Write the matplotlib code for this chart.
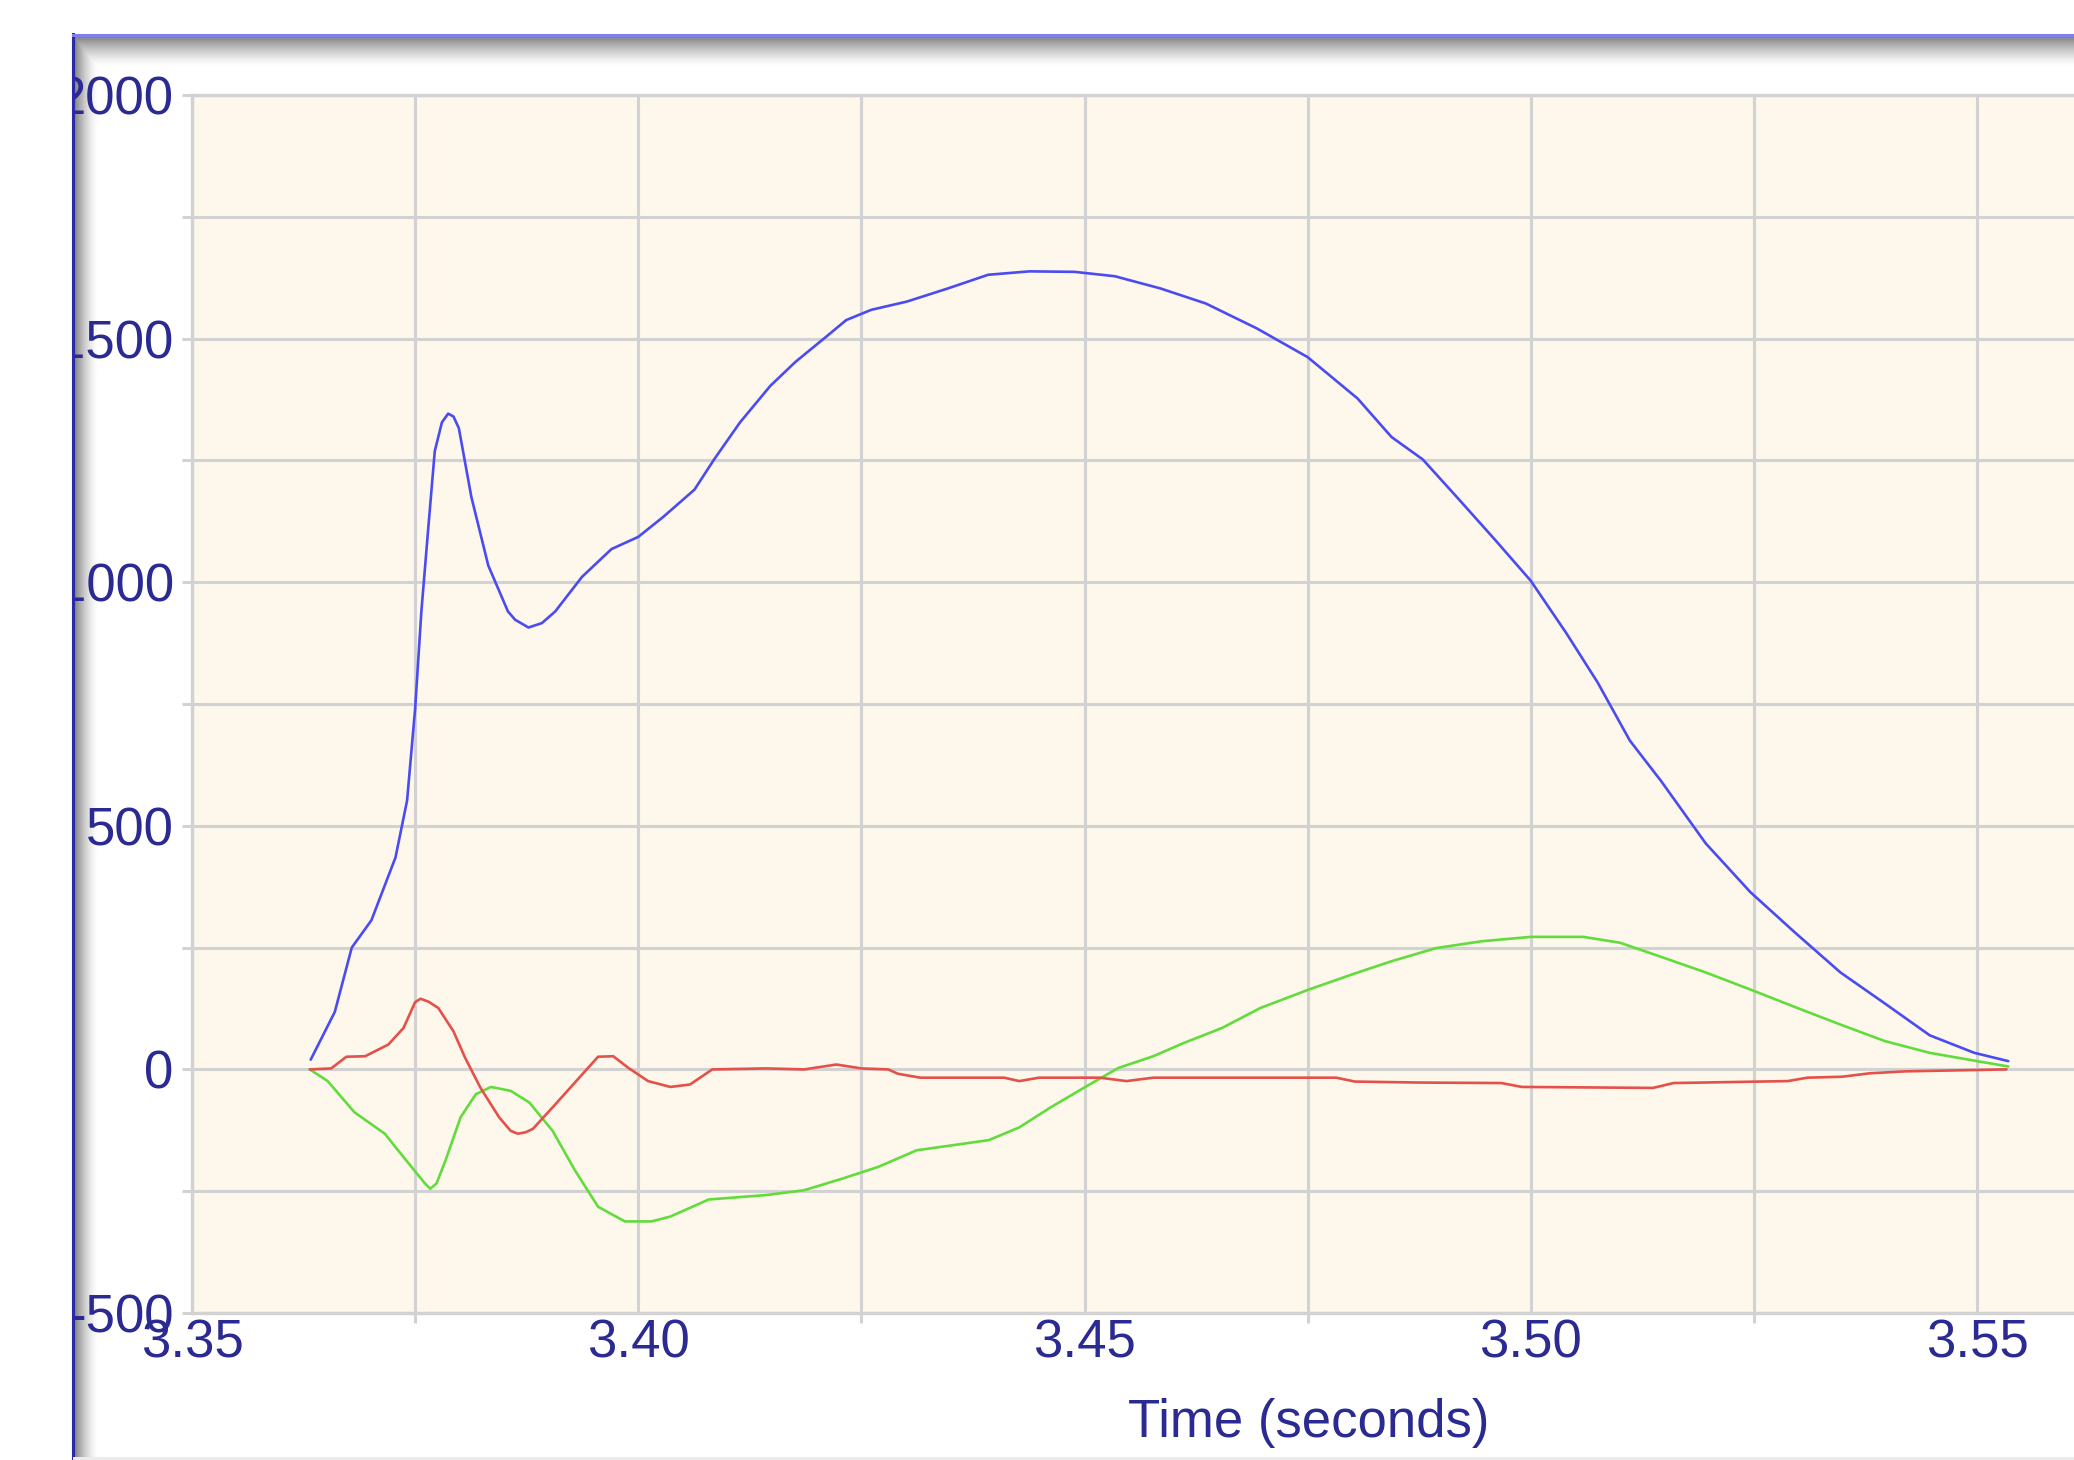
import numpy as np
import matplotlib
matplotlib.use("Agg")
import matplotlib.pyplot as plt
from matplotlib.lines import Line2D
from matplotlib.patches import Rectangle

# ---------------- data ----------------
blue_t = [3.3633, 3.3660, 3.3679, 3.3701, 3.3728, 3.3741, 3.3750, 3.3757, 3.3765, 3.3772,
          3.3780, 3.3787, 3.3793, 3.3799, 3.3813, 3.3832, 3.3854, 3.3862, 3.3877, 3.3892,
          3.3907, 3.3937, 3.3970,
          3.4000, 3.4028, 3.4063, 3.4085, 3.4114, 3.4148, 3.4176, 3.4210, 3.4233, 3.4261,
          3.4301, 3.4347, 3.4392, 3.4438, 3.4489, 3.4534, 3.4585, 3.4636, 3.4693, 3.4750,
          3.4806, 3.4844, 3.4879, 3.4920, 3.4960, 3.5000, 3.5040, 3.5075, 3.5111, 3.5146,
          3.5196, 3.5246, 3.5296, 3.5347, 3.5397, 3.5447, 3.5497, 3.5535]
blue_v = [20, 118, 250, 306, 435, 552, 740, 940, 1117, 1269,
          1328, 1346, 1340, 1316, 1175, 1034, 940, 923, 907, 916,
          940, 1011, 1068,
          1093, 1134, 1190, 1252, 1328, 1403, 1452, 1503, 1538, 1559,
          1576, 1603, 1631, 1638, 1637, 1628, 1603, 1572, 1521, 1462,
          1377, 1298, 1252, 1169, 1087, 1003, 895, 794, 675, 592,
          464, 364, 281, 199, 135, 70, 34, 17]

red_t = [3.3632, 3.3656, 3.3673, 3.3694, 3.3720, 3.3737, 3.3750, 3.3756, 3.3765, 3.3776,
         3.3793, 3.3806, 3.3823, 3.3844, 3.3857, 3.3865, 3.3874, 3.3882, 3.3904, 3.3929,
         3.3955, 3.3972, 3.3989, 3.4011,
         3.4036, 3.4058, 3.4083, 3.4143, 3.4186, 3.4222, 3.4250, 3.4280, 3.4291, 3.4316,
         3.4410, 3.4427, 3.4449, 3.4517, 3.4547, 3.4577, 3.4782, 3.4803, 3.4876, 3.4967,
         3.4990, 3.5137, 3.5160, 3.5288, 3.5310, 3.5349, 3.5380, 3.5420, 3.5533]
red_v = [0, 2, 26, 27, 51, 85, 138, 145, 139, 126,
         78, 24, -37, -98, -126, -132, -129, -122, -78, -27,
         26, 27, 3, -24,
         -36, -31, 0, 2, 0, 10, 2, 0, -9, -17,
         -17, -24, -17, -17, -24, -17, -17, -25, -27, -28,
         -36, -38, -28, -24, -17, -15, -8, -4, 0]

green_t = [3.3632, 3.3652, 3.3682, 3.3716, 3.3737, 3.3761, 3.3767, 3.3774, 3.3784, 3.3801,
           3.3818, 3.3835,
           3.3857, 3.3878, 3.3904, 3.3929, 3.3955, 3.3985, 3.4015, 3.4036, 3.4079, 3.4143,
           3.4186, 3.4229, 3.4269, 3.4312, 3.4355, 3.4393, 3.4427, 3.4462, 3.4500, 3.4538,
           3.4577, 3.4611, 3.4654, 3.4697, 3.4750, 3.4803, 3.4844, 3.4894, 3.4945, 3.5000,
           3.5059, 3.5100, 3.5146, 3.5196, 3.5246, 3.5296, 3.5347, 3.5397, 3.5447, 3.5500,
           3.5535]
green_v = [0, -24, -88, -132, -180, -234, -245, -234, -187, -98,
           -51, -36,
           -44, -68, -126, -207, -282, -312, -312, -302, -267, -258,
           -248, -224, -200, -166, -155, -145, -119, -78, -37, 3,
           27, 54, 85, 126, 163, 197, 222, 249, 263, 272,
           272, 260, 231, 199, 164, 128, 92, 58, 34, 17,
           6]

x_ticks = [3.35, 3.40, 3.45, 3.50, 3.55]
x_ticklabels = ["3.35", "3.40", "3.45", "3.50", "3.55"]
x_minor = [3.375, 3.425, 3.475, 3.525]
y_ticks = [-500, 0, 500, 1000, 1500, 2000]
y_ticklabels = ["-500", "0", "500", "1000", "1500", "2000"]
y_minor = [-250, 250, 750, 1250, 1750]
x_label = "Time (seconds)"

# ---------------- style ----------------
W, H = 2074, 1460
FONT = ["Liberation Sans", "DejaVu Sans"]
TXT = "#2a2a92"
GRID = "#d2d2d2"
BG = "#fdf8eb"

plt.rcParams["font.family"] = FONT

fig = plt.figure(figsize=(W / 100, H / 100), dpi=100)
fig.patch.set_facecolor("white")

# background with inner shadow of the screenshot frame
bg = fig.add_axes([0, 0, 1, 1], zorder=0)
bg.set_axis_off()
img = np.ones((H, W, 3))
xx = np.arange(W)[None, :]
yy = np.arange(H)[:, None]
fx, fy = 74, 36
dl = np.where((xx >= fx) & (yy >= fy), 0.5 * np.clip(1 - (xx - fx) / 24.0, 0, 1) ** 1.6, 0)
dt = np.where((xx >= fx) & (yy >= fy), 0.5 * np.clip(1 - (yy - fy) / 30.0, 0, 1) ** 1.4, 0)
shade = np.maximum(dl, dt)
img = img * (1 - shade)[:, :, None]
bg.imshow(img, extent=[0, W, H, 0], aspect="auto", interpolation="bilinear")
bg.set_xlim(0, W)
bg.set_ylim(H, 0)

# main axes
left, top, bottom = 192, 95, 1313
ax = fig.add_axes([left / W, (H - bottom) / H, 1 - left / W, (bottom - top) / H], zorder=2)
ax.set_facecolor(BG)

kw = dict(lw=1.9, zorder=3, solid_joinstyle="round", solid_capstyle="round")
ax.plot(blue_t, blue_v, color="#4b4bf2", **kw)
ax.plot(green_t, green_v, color="#62dc3c", **kw)
ax.plot(red_t, red_v, color="#e4504a", **kw)

px_per_x = 446.25 / 0.05
ax.set_xlim(3.35, 3.35 + (W - left) / px_per_x)
ax.set_ylim(-500, 2000)

ax.set_xticks(x_ticks)
ax.set_xticklabels(x_ticklabels)
ax.set_xticks(x_minor, minor=True)
ax.set_yticks(y_ticks)
ax.set_yticklabels(y_ticklabels)
ax.set_yticks(y_minor, minor=True)

ax.grid(True, which="both", color=GRID, lw=2.2, zorder=1)
ax.set_axisbelow(True)
for s in ["left", "top", "bottom"]:
    ax.spines[s].set_color(GRID)
    ax.spines[s].set_linewidth(2.4)
ax.spines["right"].set_visible(False)

ax.tick_params(axis="y", which="both", length=7.2, width=2.2, color=GRID,
               pad=6, labelsize=38, labelcolor=TXT)
ax.tick_params(axis="x", which="major", length=0, pad=4, labelsize=38, labelcolor=TXT)
ax.tick_params(axis="x", which="minor", length=7.2, width=2.2, color=GRID)

lab = ax.set_xlabel(x_label, fontsize=38, color=TXT)
ax.xaxis.set_label_coords((1309 - left) / (W - left), -(1437 - bottom) / (bottom - top))
lab.set_va("baseline")

# mask left of the frame and draw the frame lines
fig.add_artist(Rectangle((0, 0), 73 / W, 1, transform=fig.transFigure,
                         facecolor="white", edgecolor="none", zorder=10))
fig.add_artist(Rectangle((0, (H - 34) / H), 1, 34 / H, transform=fig.transFigure,
                         facecolor="white", edgecolor="none", zorder=10))
fig.add_artist(Line2D([73 / W, 73 / W], [0, (H - 34) / H], transform=fig.transFigure,
                      color="#2a2aa8", lw=2.2, zorder=11))
fig.add_artist(Line2D([73 / W, 1], [(H - 35) / H, (H - 35) / H], transform=fig.transFigure,
                      color="#7f7ff2", lw=2.2, zorder=11))
fig.add_artist(Rectangle((73 / W, 0), 1, 3 / H, transform=fig.transFigure,
                         facecolor="#ececec", edgecolor="none", zorder=11))

fig.savefig("out.png", dpi=100)
